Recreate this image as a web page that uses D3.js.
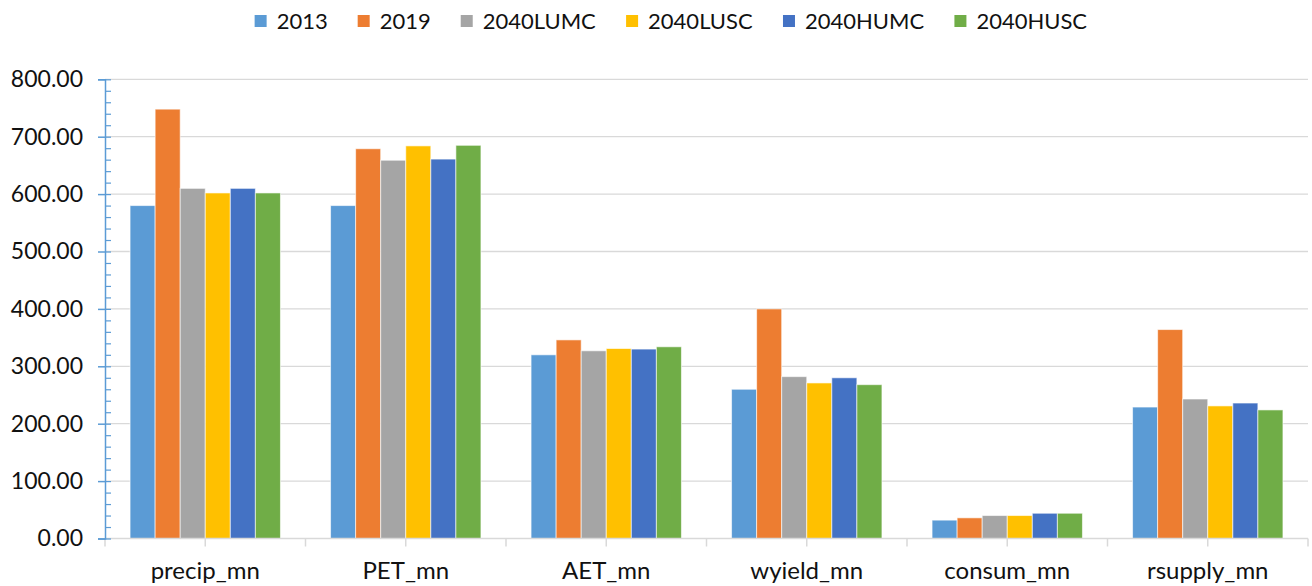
<!DOCTYPE html>
<html lang="en">
<head>
<meta charset="utf-8">
<title>Water balance by scenario</title>
<script src="https://d3js.org/d3.v7.min.js"></script>
<style>
  body { margin: 0; background: #fff; }
  text { font-family: Lato, "Open Sans", sans-serif; fill: #111; }
</style>
</head>
<body>
<script>
// chart data
var categories = ["precip_mn", "PET_mn", "AET_mn", "wyield_mn", "consum_mn", "rsupply_mn"];
var seriesNames = ["2013", "2019", "2040LUMC", "2040LUSC", "2040HUMC", "2040HUSC"];
var colors = ["#5b9bd5", "#ed7d31", "#a5a5a5", "#ffc000", "#4472c4", "#70ad47"];

var s2013     = [580, 580, 320, 260, 32, 229];
var s2019     = [748, 679, 346, 400, 36, 364];
var s2040LUMC = [610, 659, 327, 282, 40, 243];
var s2040LUSC = [602, 684, 331, 271, 40, 231];
var s2040HUMC = [610, 661, 330, 280, 44, 236];
var s2040HUSC = [602, 685, 334, 268, 44, 224];
var yTicks = [0, 100, 200, 300, 400, 500, 600, 700, 800];

var seriesValues = [s2013, s2019, s2040LUMC, s2040LUSC, s2040HUMC, s2040HUSC];

var W = 1312, H = 586;
var plotLeft = 105, plotRight = 1308, plotTop = 79.3, plotBottom = 538.5;

var svg = d3.select("body").append("svg")
    .attr("width", W)
    .attr("height", H);

var y = d3.scaleLinear().domain([0, 800]).range([plotBottom, plotTop]);

var x0 = d3.scaleBand()
    .domain(categories)
    .range([plotLeft, plotRight])
    .paddingInner(0.25)
    .paddingOuter(0.125);

var x1 = d3.scaleBand()
    .domain(seriesNames)
    .range([0, x0.bandwidth()])
    .padding(0);

// gridlines
svg.append("g")
    .selectAll("line")
    .data(yTicks.slice(1))
    .enter().append("line")
    .attr("x1", plotLeft).attr("x2", plotRight)
    .attr("y1", function(d) { return y(d); })
    .attr("y2", function(d) { return y(d); })
    .attr("stroke", "#d9d9d9")
    .attr("stroke-width", 1.3);

// bars
var groups = svg.append("g")
    .selectAll("g")
    .data(categories)
    .enter().append("g")
    .attr("transform", function(d) { return "translate(" + x0(d) + ",0)"; });

groups.selectAll("rect")
    .data(function(c, ci) {
        return seriesNames.map(function(s, si) {
            return { series: s, value: seriesValues[si][ci], color: colors[si] };
        });
    })
    .enter().append("rect")
    .attr("x", function(d) { return x1(d.series); })
    .attr("width", x1.bandwidth())
    .attr("y", function(d) { return y(d.value); })
    .attr("height", function(d) { return plotBottom - y(d.value); })
    .attr("fill", function(d) { return d.color; })
    .attr("stroke", "#ffffff")
    .attr("stroke-opacity", 0.6)
    .attr("stroke-width", 1);

// x axis: line plus ticks at every half category
var half = x0.step() / 2;
var xTickPos = d3.range(0, categories.length * 2 + 1).map(function(i) { return plotLeft + i * half; });

svg.append("line")
    .attr("x1", plotLeft).attr("x2", plotRight)
    .attr("y1", plotBottom).attr("y2", plotBottom)
    .attr("stroke", "#d9d9d9")
    .attr("stroke-width", 1.5);

svg.append("g")
    .selectAll("line")
    .data(xTickPos)
    .enter().append("line")
    .attr("x1", function(d) { return d; })
    .attr("x2", function(d) { return d; })
    .attr("y1", plotBottom)
    .attr("y2", plotBottom + 8)
    .attr("stroke", "#d9d9d9")
    .attr("stroke-width", 1.5);

svg.append("g")
    .selectAll("text")
    .data(categories)
    .enter().append("text")
    .attr("x", function(d) { return x0(d) + x0.bandwidth() / 2; })
    .attr("y", 579)
    .attr("text-anchor", "middle")
    .attr("font-size", 24)
    .text(function(d) { return d; });

// y axis, major ticks outside with labels
var yAxis = svg.append("g")
    .attr("transform", "translate(" + plotLeft + ",0)")
    .call(d3.axisLeft(y)
        .tickValues(yTicks)
        .tickFormat(d3.format(".2f"))
        .tickSize(7)
        .tickPadding(15));

yAxis.select(".domain").attr("stroke", "#5b9bd5").attr("stroke-width", 1.5);
yAxis.selectAll(".tick line").attr("stroke", "#5b9bd5").attr("stroke-width", 1.5);
yAxis.selectAll(".tick text")
    .attr("font-family", "Lato, sans-serif")
    .attr("font-size", 23)
    .attr("fill", "#111");

// minor ticks inside
var minorAxis = svg.append("g")
    .attr("transform", "translate(" + plotLeft + ",0)")
    .call(d3.axisRight(y)
        .tickValues(d3.range(0, 801, 20))
        .tickFormat("")
        .tickSize(6));
minorAxis.select(".domain").remove();
minorAxis.selectAll(".tick line").attr("stroke", "#5b9bd5").attr("stroke-width", 1.2);

// legend
var legend = svg.append("g");
var items = legend.selectAll("g")
    .data(seriesNames)
    .enter().append("g");

items.append("rect")
    .attr("width", 12).attr("height", 12)
    .attr("y", 15)
    .attr("fill", function(d, i) { return colors[i]; });

items.append("text")
    .attr("x", 22)
    .attr("y", 29)
    .attr("font-size", 22)
    .text(function(d) { return d; });

var xpos = 0;
items.each(function() {
    var w = this.getBBox().width;
    d3.select(this).attr("transform", "translate(" + xpos + ",0)");
    xpos += w + 30;
});
var totalW = xpos - 30;
legend.attr("transform", "translate(" + (671 - totalW / 2) + ",0)");
</script>
</body>
</html>
